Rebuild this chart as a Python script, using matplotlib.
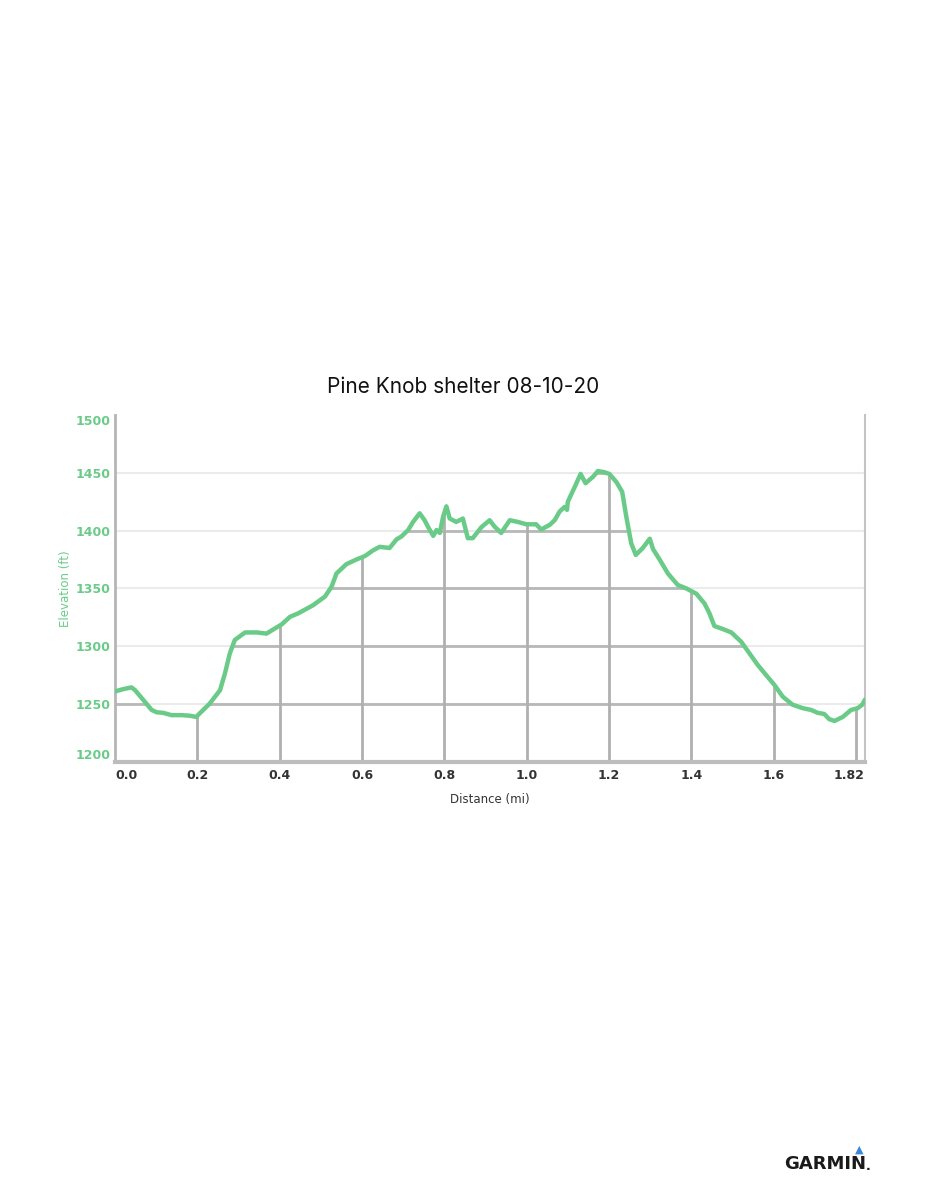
import numpy as np
import matplotlib
matplotlib.use("Agg")
import matplotlib.pyplot as plt
from matplotlib.patches import Polygon

# 数据 (距离 mi, 海拔 ft)
dist = [0.0, 0.02, 0.04, 0.049, 0.069, 0.089, 0.101, 0.117, 0.137, 0.162,
        0.182, 0.197, 0.21, 0.23, 0.255, 0.267, 0.279, 0.291, 0.316, 0.344,
        0.368, 0.384, 0.405, 0.425, 0.445, 0.481, 0.51, 0.526, 0.538, 0.562,
        0.586, 0.607, 0.627, 0.643, 0.667, 0.684, 0.696, 0.712, 0.724, 0.74,
        0.752, 0.76, 0.773, 0.781, 0.789, 0.797, 0.805, 0.813, 0.829, 0.845,
        0.857, 0.869, 0.89, 0.91, 0.922, 0.938, 0.959, 0.979, 0.999, 1.023,
        1.035, 1.056, 1.068, 1.08, 1.092, 1.098, 1.1, 1.117, 1.131, 1.143,
        1.161, 1.173, 1.189, 1.201, 1.218, 1.232, 1.242, 1.254, 1.265, 1.282,
        1.299, 1.307, 1.323, 1.343, 1.367, 1.388, 1.412, 1.432, 1.444, 1.456,
        1.476, 1.497, 1.521, 1.541, 1.561, 1.582, 1.602, 1.622, 1.646, 1.671,
        1.691, 1.707, 1.723, 1.735, 1.748, 1.768, 1.788, 1.804, 1.815, 1.822]
elev = [1261, 1263, 1264.5, 1262, 1253.5, 1245, 1243, 1242.5, 1240.5, 1240.5,
        1240, 1239, 1243.5, 1250.5, 1262, 1276.5, 1294, 1305.5, 1312, 1312,
        1311, 1314.5, 1319, 1325.5, 1328.5, 1335.5, 1343, 1351.5, 1363, 1371,
        1375, 1378, 1383, 1386, 1385, 1392.5, 1395, 1400.5, 1407.5, 1415,
        1409, 1403.5, 1395.5, 1400.5, 1398, 1412, 1421, 1410.5, 1407.5, 1410.5,
        1393.5, 1393.5, 1403, 1409, 1403.5, 1398, 1409, 1407.5, 1405.5, 1405.5,
        1401, 1405, 1409, 1416.5, 1420.5, 1418, 1425, 1438, 1449, 1441,
        1446.5, 1451.5, 1450.5, 1449, 1442, 1433.5, 1412, 1389, 1379, 1385,
        1393, 1384, 1375, 1363, 1353, 1350, 1345.5, 1337, 1328.5, 1317.5,
        1315, 1312, 1304, 1294, 1284, 1275, 1266.5, 1256.5, 1249.5, 1246.5,
        1245, 1242.5, 1241.5, 1237, 1235.5, 1239, 1245, 1246.5, 1249.5, 1254]

x_ticks = [0.0, 0.2, 0.4, 0.6, 0.8, 1.0, 1.2, 1.4, 1.6, 1.8, 1.82]
x_labels = ["0.0", "0.2", "0.4", "0.6", "0.8", "1.0", "1.2", "1.4", "1.6", "", "1.82"]
y_ticks = [1200, 1250, 1300, 1350, 1400, 1450, 1500]
title = "Pine Knob shelter 08-10-20"

green = "#6acb89"
x_max = dist[-1]
y_min, y_max = 1200, 1500

fig = plt.figure(figsize=(9.26, 12), dpi=100)
ax = fig.add_axes([0.1242, 0.365, 0.8100, 0.2892])
ax.set_xlim(0, x_max)
ax.set_ylim(y_min, y_max)

# 浅色水平网格线（曲线上方）
for yv in y_ticks[1:-1]:
    ax.axhline(yv, color="#ebebeb", lw=1.5, zorder=1)

# 曲线下方的深色网格线, 用曲线下的区域裁剪
area = Polygon(np.column_stack([[0] + dist + [x_max], [y_min] + elev + [y_min]]),
               closed=True, facecolor="none", edgecolor="none", transform=ax.transData)
ax.add_patch(area)
for yv in y_ticks[1:-1]:
    ln = ax.axhline(yv, color="#b8b8b8", lw=2, zorder=2)
    ln.set_clip_path(area)
for xv in x_ticks[1:-1]:
    ln = ax.axvline(xv, color="#b0b0b0", lw=2, zorder=2)
    ln.set_clip_path(area)

ax.plot(dist, elev, color=green, lw=3.2, zorder=5, solid_joinstyle="round",
        solid_capstyle="round")

# 坐标轴边框
ax.spines["top"].set_visible(False)
ax.spines["left"].set_color("#b5b5b5")
ax.spines["left"].set_linewidth(2)
ax.spines["right"].set_color("#c4c4c4")
ax.spines["right"].set_linewidth(1.5)
ax.spines["bottom"].set_color("#bdbdbd")
ax.spines["bottom"].set_linewidth(3)

ax.set_xticks(x_ticks)
ax.set_xticklabels(x_labels, fontsize=9, fontweight="bold", color="#333333")
ax.set_yticks(y_ticks)
ax.set_yticklabels([str(v) for v in y_ticks], fontsize=9, fontweight="bold", color=green)
ax.tick_params(axis="both", length=0)
ax.tick_params(axis="x", pad=5)
ax.tick_params(axis="y", pad=3)
xl = ax.get_xticklabels()
xl[0].set_ha("left")
xl[-1].set_ha("right")
yl = ax.get_yticklabels()
yl[0].set_va("bottom")
yl[-1].set_va("top")

ax.set_xlabel("Distance (mi)", fontsize=8.5, color="#333333", labelpad=8)
ax.set_ylabel("Elevation (ft)", fontsize=8.5, color=green, labelpad=3)

fig.text(0.5, 1 - 387 / 1200, title, ha="center", va="center", fontsize=15,
         family=["Inter", "DejaVu Sans"], color="#111111")

# Garmin 标志
fig.text(866 / 926, 1 - 1164 / 1200, "GARMIN", ha="right", va="center", fontsize=13,
         fontweight="bold", family=["DejaVu Sans"], color="#1a1a1a")
fig.text(866 / 926, 1 - 1167 / 1200, ".", ha="left", va="center", fontsize=9,
         fontweight="bold", color="#1a1a1a")
fig.text(859 / 926, 1 - 1150 / 1200, "\u25b2", ha="center", va="center", fontsize=8,
         color="#3a86d8")

fig.savefig("out.png", dpi=100)
